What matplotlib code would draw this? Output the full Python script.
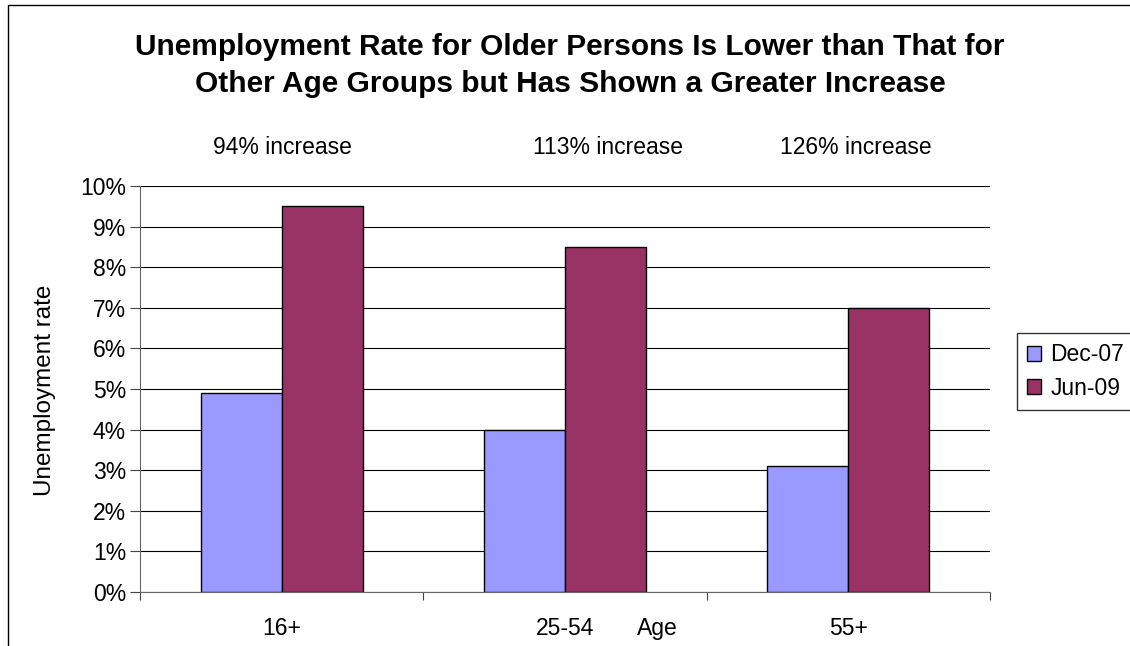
import numpy as np
import matplotlib.pyplot as plt
import matplotlib.patches as mpatches
import matplotlib.transforms as mtransforms

plt.rcParams['font.family'] = ['Liberation Sans', 'DejaVu Sans']

# data
groups = ['16+', '25-54', '55+']
dec07 = [4.9, 4.0, 3.1]
jun09 = [9.5, 8.5, 7.0]
series_names = ['Dec-07', 'Jun-09']
increase_labels = ['94% increase', '113% increase', '126% increase']
yticks = list(range(0, 11))

W, H = 1130, 646
FS = 16.5
fig = plt.figure(figsize=(W / 100, H / 100), dpi=100)
fig.patch.set_facecolor('white')

# outer chart border (Excel chart area), runs off the right/bottom edge
fig.patches.append(mpatches.Rectangle((8 / W, -0.1), 1.2, 1 - 5 / H + 0.1,
                                      transform=fig.transFigure, fill=False,
                                      edgecolor='black', linewidth=1.0))

ax = fig.add_axes([140 / W, (H - 592) / H, 850 / W, 406 / H])

n = len(groups)
w = 1 / 3.5  # excel gap width 150%
x = np.arange(n) + 0.5
ax.bar(x - w / 2, dec07, width=w, color='#9999FF', edgecolor='black', linewidth=1.0,
       label=series_names[0], zorder=3)
ax.bar(x + w / 2, jun09, width=w, color='#993366', edgecolor='black', linewidth=1.0,
       label=series_names[1], zorder=3)

ax.set_xlim(0, n)
ax.set_ylim(0, 10)
ax.set_yticks(yticks)
ax.set_yticklabels([f'{v}%' for v in yticks], fontsize=FS)
ax.yaxis.grid(True, color='black', linewidth=0.8, zorder=0)
ax.set_axisbelow(True)

# category boundary ticks, labels set as text below
ax.set_xticks(np.arange(n + 1))
ax.set_xticklabels([])
ax.tick_params(axis='x', direction='out', length=6, width=0.8, color='#444444')
ax.tick_params(axis='y', direction='out', length=7, width=0.8, color='#444444', pad=3)

for s in ['top', 'right']:
    ax.spines[s].set_visible(False)
ax.spines['left'].set_color('#666666')
ax.spines['bottom'].set_color('#666666')

trans = mtransforms.blended_transform_factory(ax.transData, fig.transFigure)
base_y = 1 - 635 / H
for xi, g in zip(x, groups):
    ax.text(xi, base_y, g, transform=trans, ha='center', va='baseline', fontsize=FS)
ax.text(657 / W, base_y, 'Age', transform=fig.transFigure, ha='center', va='baseline',
        fontsize=FS)

inc_x = [282, 608, 856]
for px, t in zip(inc_x, increase_labels):
    fig.text(px / W, 1 - 154 / H, t, ha='center', va='baseline', fontsize=FS)

fig.text(45 / W, 1 - 390 / H, 'Unemployment rate', rotation=90, ha='center',
         va='center', fontsize=FS + 1)

fig.text(570 / W, 1 - 55 / H, 'Unemployment Rate for Older Persons Is Lower than That for',
         ha='center', va='baseline', fontsize=21.5, fontweight='bold')
fig.text(570 / W, 1 - 92 / H, 'Other Age Groups but Has Shown a Greater Increase',
         ha='center', va='baseline', fontsize=21.5, fontweight='bold')

leg = fig.legend(loc='upper left', bbox_to_anchor=(1017 / W, 1 - 333 / H),
                 fontsize=FS, frameon=True, fancybox=False, edgecolor='black',
                 handlelength=0.6, handleheight=0.6, handletextpad=0.4,
                 borderpad=0.45, labelspacing=0.45, borderaxespad=0)
leg.get_frame().set_linewidth(1.0)

fig.savefig('out.png', dpi=100)
